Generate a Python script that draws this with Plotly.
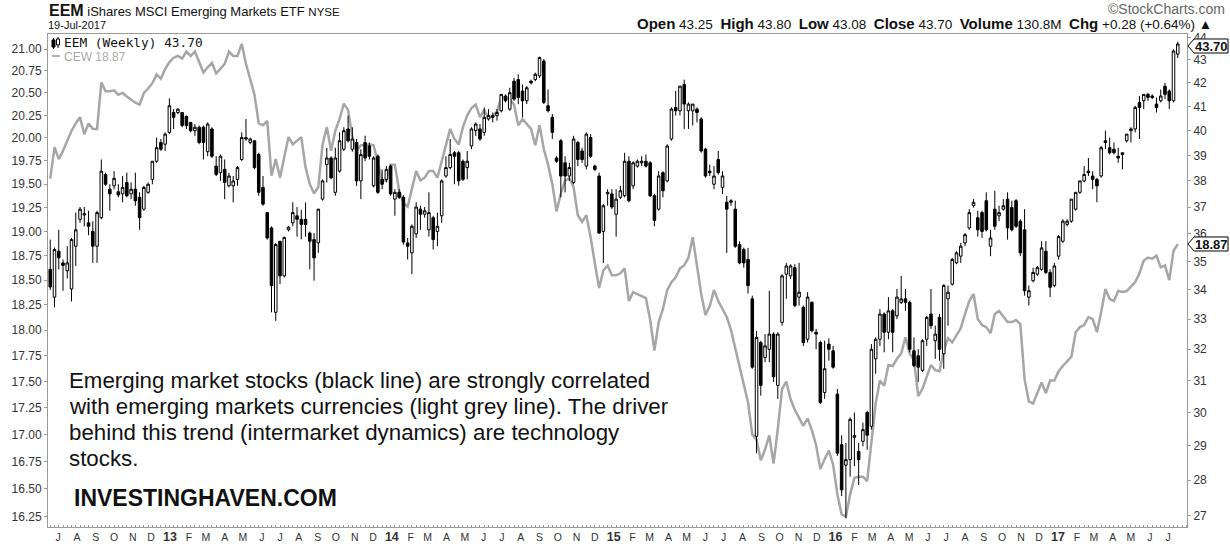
import pandas as pd
import plotly.graph_objects as go

# weekly bars, week of 18-Jun-2012 .. week of 17-Jul-2017
weeks = pd.date_range('2012-06-18', periods=266, freq='7D')

eem_open = [
    34.72, 33.75, 35.37, 34.95, 34.67, 34.03, 35.55, 36.54, 36.70, 36.41,
    36.09, 35.55, 36.60, 38.25, 37.68, 37.81, 37.58, 37.50, 37.94, 37.50,
    37.68, 37.37, 36.92, 37.56, 38.06, 38.77, 39.52, 39.45, 39.93, 40.75,
    40.75, 40.75, 40.59, 40.34, 40.00, 40.14, 40.14, 39.15, 40.07, 38.58,
    38.32, 38.45, 37.81, 37.81, 38.06, 38.84, 39.72, 39.52, 39.59, 39.04,
    37.75, 36.79, 36.22, 33.23, 35.73, 34.49, 36.15, 36.41, 36.67, 36.54,
    36.54, 36.03, 35.79, 35.67, 37.30, 38.64, 38.90, 37.56, 38.38, 39.25,
    40.07, 39.25, 39.52, 38.00, 39.52, 39.38, 37.81, 38.97, 38.06, 38.06,
    38.58, 37.30, 37.56, 37.37, 35.67, 35.31, 36.00, 36.92, 36.73, 36.15,
    36.60, 36.09, 36.67, 38.19, 38.52, 39.11, 39.11, 38.77, 38.52, 39.38,
    40.00, 40.07, 39.93, 40.48, 40.62, 40.62, 40.82, 41.44, 40.89, 42.07,
    42.14, 41.65, 41.24, 42.07, 42.14, 42.30, 42.95, 41.03, 40.55, 38.90,
    39.59, 38.71, 38.19, 37.94, 39.52, 39.18, 38.58, 39.72, 38.58, 38.19,
    36.09, 37.50, 37.50, 36.73, 37.37, 37.43, 38.77, 37.81, 38.58, 38.71,
    38.77, 38.71, 37.43, 36.92, 38.32, 38.00, 39.66, 40.96, 40.82, 41.93,
    40.82, 40.82, 40.89, 40.48, 39.25, 38.38, 37.87, 38.84, 37.75, 37.18,
    37.18, 36.92, 35.61, 35.43, 35.07, 33.69, 29.28, 32.22, 31.73, 32.00,
    32.50, 30.84, 32.89, 34.55, 34.49, 34.78, 33.75, 33.40, 32.33, 33.57,
    32.56, 32.22, 30.62, 32.17, 31.95, 30.57, 29.03, 28.43, 28.59, 29.25,
    28.83, 29.13, 30.00, 29.58, 31.69, 32.33, 33.17, 32.56, 33.28, 33.11,
    33.57, 33.69, 33.57, 31.95, 31.79, 31.32, 32.33, 33.17, 32.28, 33.06,
    31.85, 33.69, 34.20, 34.95, 35.19, 35.67, 36.22, 37.05, 36.60, 36.79,
    37.24, 35.55, 36.92, 36.67, 36.92, 37.30, 36.98, 37.24, 36.47, 36.15,
    33.75, 34.32, 34.55, 34.72, 35.37, 34.61, 34.15, 35.19, 35.73, 36.35,
    36.47, 36.92, 37.56, 38.00, 38.38, 38.19, 38.06, 38.19, 39.59, 39.31,
    39.25, 38.97, 39.04, 39.59, 40.00, 40.07, 41.17, 41.24, 41.51, 41.44,
    41.10, 41.24, 41.86, 41.65, 41.24, 43.25,
]
eem_high = [
    35.79, 35.50, 36.15, 35.07, 35.55, 35.85, 36.79, 37.00, 37.00, 36.86,
    36.47, 36.86, 38.84, 38.32, 37.87, 38.38, 37.87, 38.19, 38.32, 37.94,
    38.32, 37.56, 37.81, 37.94, 38.77, 39.72, 39.66, 39.93, 41.34, 40.89,
    40.92, 40.75, 40.62, 40.34, 40.27, 40.21, 40.21, 40.34, 40.14, 38.97,
    39.04, 38.84, 38.32, 38.19, 38.58, 39.93, 40.48, 39.72, 39.59, 39.11,
    38.19, 36.79, 36.28, 35.67, 35.73, 35.90, 36.28, 37.18, 37.00, 36.90,
    37.17, 36.09, 36.03, 36.92, 38.06, 39.30, 38.97, 39.31, 39.93, 40.14,
    40.62, 40.14, 39.66, 39.25, 39.79, 39.52, 38.97, 39.04, 38.45, 38.58,
    38.64, 37.68, 37.68, 37.45, 35.85, 36.35, 37.18, 37.05, 37.00, 37.56,
    36.67, 36.79, 38.06, 38.97, 39.66, 39.18, 39.18, 38.84, 39.18, 40.14,
    40.34, 40.27, 40.96, 40.89, 40.75, 40.89, 41.51, 41.51, 41.79, 42.21,
    42.37, 41.93, 41.86, 42.14, 42.44, 43.14, 43.03, 41.72, 40.69, 38.97,
    39.66, 38.97, 38.71, 39.79, 39.59, 39.31, 39.93, 39.86, 38.64, 38.32,
    37.11, 37.68, 37.68, 37.68, 37.81, 39.11, 38.97, 38.77, 38.84, 38.97,
    39.04, 38.77, 37.50, 38.38, 38.38, 39.45, 40.96, 41.65, 41.86, 42.14,
    41.17, 41.10, 40.96, 40.55, 39.31, 38.64, 38.58, 39.18, 38.38, 37.43,
    37.30, 37.24, 35.73, 35.50, 35.49, 33.80, 32.60, 32.28, 32.50, 33.97,
    32.56, 32.56, 34.55, 34.95, 34.90, 34.90, 34.95, 33.46, 33.92, 33.60,
    32.67, 32.28, 32.28, 32.36, 32.11, 30.73, 29.31, 29.08, 29.85, 30.00,
    29.08, 29.69, 30.05, 32.17, 32.39, 33.34, 33.23, 33.75, 33.34, 34.03,
    34.49, 34.03, 33.63, 32.39, 32.00, 32.33, 33.11, 34.03, 32.78, 33.17,
    34.20, 34.15, 35.13, 35.37, 35.67, 36.03, 36.92, 37.30, 36.86, 36.86,
    37.56, 36.15, 37.62, 37.05, 37.30, 37.56, 37.24, 37.30, 36.54, 36.92,
    34.15, 34.78, 34.84, 35.73, 35.73, 34.72, 34.95, 35.96, 36.54, 36.54,
    37.30, 37.56, 38.00, 38.58, 38.90, 38.38, 38.12, 39.38, 40.00, 39.72,
    39.52, 39.31, 39.11, 39.86, 40.14, 41.03, 41.44, 41.51, 41.58, 41.51,
    41.38, 41.72, 42.00, 41.72, 43.46, 43.80,
]
eem_low = [
    34.00, 33.40, 34.72, 33.97, 34.40, 33.60, 34.84, 36.41, 36.28, 35.95,
    34.95, 34.95, 36.54, 37.81, 36.86, 37.68, 37.37, 37.18, 37.37, 37.30,
    37.05, 36.15, 36.86, 37.50, 37.87, 38.71, 39.18, 39.18, 39.86, 40.07,
    40.68, 40.14, 40.07, 39.93, 39.79, 39.45, 38.84, 38.97, 38.90, 38.19,
    38.00, 37.30, 37.75, 37.18, 37.81, 38.77, 39.59, 39.45, 38.45, 37.43,
    37.05, 35.79, 33.23, 32.94, 34.20, 34.43, 36.09, 36.28, 35.90, 35.80,
    35.90, 34.72, 34.32, 35.31, 37.24, 37.94, 38.06, 37.43, 38.32, 39.18,
    39.52, 39.15, 37.81, 37.30, 38.77, 38.84, 37.75, 37.50, 37.68, 37.94,
    37.43, 36.67, 37.30, 35.60, 35.07, 34.55, 35.85, 36.15, 36.60, 35.90,
    35.43, 35.55, 36.41, 38.12, 38.45, 37.87, 37.81, 38.00, 38.06, 39.25,
    39.79, 39.59, 39.79, 40.41, 40.34, 40.41, 40.75, 41.17, 40.82, 41.24,
    41.10, 40.55, 41.10, 41.93, 42.07, 42.21, 41.10, 40.75, 39.66, 38.71,
    37.37, 37.56, 38.00, 37.87, 38.58, 38.71, 38.45, 38.90, 38.38, 36.00,
    34.95, 37.05, 36.92, 35.90, 37.30, 37.37, 37.18, 37.68, 38.52, 38.58,
    38.52, 37.37, 36.28, 36.86, 37.37, 37.94, 39.59, 40.62, 40.62, 40.07,
    40.07, 40.21, 40.34, 39.11, 38.12, 38.19, 37.68, 38.25, 37.50, 35.31,
    37.05, 35.49, 34.90, 34.78, 33.87, 31.37, 28.78, 30.52, 31.58, 31.58,
    30.95, 30.42, 32.78, 33.69, 34.38, 33.40, 33.46, 32.11, 32.22, 32.56,
    32.00, 30.26, 30.42, 31.63, 31.37, 28.70, 27.55, 26.93, 28.10, 28.40,
    27.86, 28.98, 28.88, 29.48, 31.21, 32.11, 31.90, 32.33, 31.90, 33.00,
    33.51, 33.28, 31.90, 31.42, 30.95, 31.26, 32.11, 32.67, 31.69, 31.63,
    31.37, 32.78, 34.15, 34.90, 34.95, 35.55, 36.15, 36.98, 35.90, 35.85,
    36.09, 35.19, 36.15, 36.47, 36.86, 35.79, 36.09, 36.22, 35.19, 33.80,
    33.46, 34.26, 34.49, 34.67, 34.55, 33.75, 34.09, 35.07, 35.67, 36.28,
    36.41, 36.86, 37.50, 37.94, 38.19, 37.68, 37.18, 38.12, 39.25, 39.04,
    39.04, 38.71, 38.45, 39.52, 39.52, 39.93, 39.66, 40.89, 41.24, 41.31,
    40.75, 41.17, 41.31, 40.89, 41.17, 43.08,
]
eem_close = [
    34.10, 35.43, 35.13, 34.86, 34.95, 35.79, 36.15, 36.92, 36.75, 36.28,
    35.55, 36.79, 38.38, 37.87, 37.50, 38.10, 37.46, 37.75, 37.43, 37.68,
    37.24, 36.60, 37.75, 37.87, 38.77, 39.31, 39.25, 39.86, 41.03, 40.55,
    40.89, 40.21, 40.21, 40.00, 40.14, 39.52, 39.52, 40.27, 38.97, 38.25,
    38.97, 37.94, 38.19, 38.00, 38.52, 39.72, 39.66, 39.66, 38.52, 37.56,
    37.11, 35.85, 34.15, 35.61, 34.49, 35.87, 36.25, 36.79, 36.54, 36.35,
    36.35, 35.73, 35.13, 36.92, 38.00, 38.90, 38.12, 38.90, 39.59, 40.00,
    39.59, 39.66, 38.00, 39.04, 38.90, 38.97, 38.90, 37.56, 37.87, 38.45,
    37.50, 37.56, 37.37, 35.70, 35.55, 36.28, 37.00, 36.73, 36.86, 36.79,
    35.79, 36.28, 38.00, 38.52, 39.04, 38.97, 38.00, 38.06, 38.77, 40.07,
    40.27, 39.66, 40.55, 40.62, 40.55, 40.75, 41.51, 41.24, 41.58, 41.31,
    41.38, 41.24, 41.79, 42.00, 42.37, 43.10, 41.17, 40.82, 39.93, 38.77,
    38.19, 38.19, 38.52, 39.66, 38.84, 38.84, 39.86, 38.97, 38.45, 36.03,
    37.05, 37.56, 37.00, 37.30, 37.62, 38.77, 37.24, 38.71, 38.77, 38.77,
    38.58, 37.43, 36.50, 38.19, 37.62, 39.38, 40.89, 40.82, 41.86, 41.10,
    41.10, 41.10, 40.75, 39.18, 38.19, 38.32, 38.19, 38.32, 38.19, 36.92,
    37.24, 35.55, 34.95, 34.95, 34.15, 31.42, 32.39, 30.84, 32.11, 32.50,
    31.11, 32.50, 34.49, 34.84, 34.84, 33.46, 33.92, 32.22, 33.75, 32.61,
    32.50, 30.31, 31.37, 32.00, 31.42, 28.78, 27.72, 28.59, 29.79, 29.30,
    28.59, 29.48, 29.31, 32.00, 32.33, 33.17, 32.56, 33.28, 32.56, 33.75,
    33.69, 33.57, 32.00, 31.47, 31.42, 32.28, 33.06, 32.78, 32.50, 32.00,
    34.15, 33.92, 35.07, 35.31, 35.55, 35.97, 36.79, 37.18, 36.15, 36.09,
    36.15, 35.85, 36.28, 36.79, 37.05, 36.22, 36.15, 36.28, 35.31, 33.97,
    33.97, 34.61, 34.78, 35.49, 34.61, 34.09, 34.84, 35.90, 36.47, 36.47,
    37.30, 37.56, 38.00, 38.25, 38.32, 38.06, 37.81, 39.31, 39.52, 39.11,
    39.11, 38.90, 39.11, 39.86, 40.07, 40.96, 40.96, 41.51, 41.38, 41.38,
    40.96, 41.44, 41.51, 41.24, 43.39, 43.70,
]
cew_close = [
    19.56, 19.90, 19.77, 19.86, 19.97, 20.08, 20.16, 20.23, 20.04, 20.16,
    20.10, 20.10, 20.62, 20.52, 20.52, 20.53, 20.48, 20.50, 20.46, 20.43,
    20.39, 20.37, 20.50, 20.55, 20.61, 20.71, 20.66, 20.77, 20.85, 20.90,
    20.92, 20.89, 20.97, 20.92, 20.97, 20.85, 20.73, 20.79, 20.84, 20.72,
    20.78, 20.83, 20.97, 20.92, 20.92, 21.06, 20.83, 20.64, 20.48, 20.16,
    20.14, 20.19, 19.59, 19.77, 19.57, 19.79, 20.01, 19.93, 19.97, 20.01,
    19.68, 19.50, 19.40, 19.47, 19.93, 20.12, 19.86, 20.08, 20.21, 20.38,
    20.31, 20.01, 19.86, 19.92, 19.92, 19.93, 19.92, 19.71, 19.54, 19.54,
    19.71, 19.71, 19.43, 19.30, 19.26, 19.45, 19.64, 19.54, 19.57, 19.64,
    19.64, 19.57, 19.75, 19.93, 20.10, 19.99, 19.93, 20.12, 20.25, 20.33,
    20.37, 20.23, 20.31, 20.22, 20.24, 20.29, 20.45, 20.45, 20.43, 20.37,
    20.14, 20.21, 20.16, 20.10, 19.92, 20.14, 19.88, 19.71, 19.50, 19.21,
    19.40, 19.54, 19.56, 19.47, 19.17, 19.10, 19.17, 18.94, 18.67, 18.42,
    18.60, 18.65, 18.55, 18.55, 18.57, 18.62, 18.29, 18.38, 18.36, 18.34,
    18.32, 18.10, 17.80, 18.08, 18.21, 18.40, 18.48, 18.53, 18.62, 18.65,
    18.73, 18.94, 18.67, 18.36, 18.15, 18.24, 18.40, 18.29, 18.21, 18.13,
    18.00, 17.82, 17.65, 17.49, 17.30, 17.00, 16.95, 16.76, 16.86, 16.99,
    16.73, 17.05, 17.43, 17.50, 17.33, 17.23, 17.15, 17.08, 17.15, 17.04,
    16.90, 16.68, 16.77, 16.85, 16.72, 16.45, 16.27, 16.25, 16.45, 16.60,
    16.61, 16.61, 16.57, 16.91, 17.29, 17.51, 17.46, 17.66, 17.65, 17.72,
    17.77, 17.93, 17.77, 17.71, 17.36, 17.43, 17.54, 17.66, 17.61, 17.60,
    17.80, 17.92, 17.88, 17.95, 18.02, 18.16, 18.29, 18.36, 18.11, 18.05,
    18.03, 17.97, 18.16, 18.19, 18.13, 18.08, 18.08, 18.10, 18.06, 17.52,
    17.31, 17.29, 17.39, 17.49, 17.39, 17.51, 17.51, 17.60, 17.65, 17.69,
    17.74, 17.98, 18.03, 18.05, 18.13, 18.11, 17.98, 18.18, 18.41, 18.31,
    18.29, 18.39, 18.38, 18.39, 18.43, 18.48, 18.57, 18.70, 18.73, 18.72,
    18.75, 18.63, 18.65, 18.50, 18.80, 18.87,
]

cew_ticks = [16.25, 16.5, 16.75, 17.0, 17.25, 17.5, 17.75, 18.0, 18.25, 18.5,
             18.75, 19.0, 19.25, 19.5, 19.75, 20.0, 20.25, 20.5, 20.75, 21.0]
eem_ticks = list(range(27, 45))
month_letters = ['J', 'F', 'M', 'A', 'M', 'J', 'J', 'A', 'S', 'O', 'N', 'D']
months = pd.date_range('2012-07-01', '2017-07-01', freq='MS')
month_text = ["<b><span style='font-size:12.5px'>%s</span></b>" % m.strftime('%y')
              if m.month == 1 else month_letters[m.month - 1] for m in months]
quote_fields = [('Open', '43.25'), ('High', '43.80'), ('Low', '43.08'),
                ('Close', '43.70'), ('Volume', '130.8M'), ('Chg', '+0.28 (+0.64%) \u25b2')]
note_lines = [
    'Emerging market stocks (black line) are strongly correlated',
    'with emerging markets currencies (light grey line). The driver',
    'behind this trend (intermarket dynamics) are technology',
    'stocks.',
]

# plot frame in pixels
L, R, T, B = 48, 1187, 34, 527
def px(x): return (x - L) / (R - L)
def py(y): return (B - y) / (B - T)

fig = go.Figure()
fig.add_trace(go.Scatter(
    x=weeks, y=cew_close, mode='lines', yaxis='y',
    line=dict(color='#a6a6a6', width=2.5), hoverinfo='skip'
))
fig.add_trace(go.Candlestick(
    x=weeks, open=eem_open, high=eem_high, low=eem_low, close=eem_close,
    yaxis='y2', whiskerwidth=0,
    increasing=dict(line=dict(color='black', width=1), fillcolor='white'),
    decreasing=dict(line=dict(color='black', width=1), fillcolor='black'),
    hoverinfo='skip'
))

fig.update_layout(
    width=1230, height=547,
    margin=dict(l=L, r=1230 - R, t=T, b=547 - B, autoexpand=False),
    paper_bgcolor='white', plot_bgcolor='white',
    showlegend=False, boxgap=0.15,
    font=dict(family='Liberation Sans, Arial', size=12, color='#222'),
    xaxis=dict(
        type='date', range=['2012-06-14 07:00', '2017-08-01 05:00'],
        rangeslider=dict(visible=False), automargin=False,
        tickvals=months, ticktext=month_text, tickangle=0,
        tickfont=dict(size=10.5, color='#333'),
        showgrid=False, showline=True, linecolor='#9a9a9a', linewidth=1, mirror=True,
        ticks='', fixedrange=True,
        minor=dict(ticks='inside', ticklen=2, tickcolor='#9a9a9a',
                   dtick=7 * 86400000, tick0='2012-06-18', showgrid=False),
    ),
    yaxis=dict(
        type='log', range=[1.208400, 1.325791], side='left', automargin=False,
        tickvals=cew_ticks, ticktext=['%.2f' % v for v in cew_ticks],
        tickfont=dict(size=12, color='#333'),
        showgrid=False, showline=True, linecolor='#9a9a9a', linewidth=1,
        ticks='outside', ticklen=3, tickcolor='#9a9a9a', zeroline=False,
    ),
    yaxis2=dict(
        type='log', range=[1.426354, 1.644916], side='right', overlaying='y',
        automargin=False,
        tickvals=eem_ticks, ticktext=[str(v) for v in eem_ticks],
        tickfont=dict(size=12, color='#333'),
        showgrid=False, showline=True, linecolor='#9a9a9a', linewidth=1,
        ticks='outside', ticklen=3, tickcolor='#9a9a9a', zeroline=False,
    ),
)

def pt(x, y):
    return '%.5f,%.5f' % (px(x), py(y))

shapes = []
# value tags on the right axis
for yc in (46, 244):
    path = 'M %s L %s L %s L %s L %s Z' % (
        pt(1188, yc), pt(1194, yc - 7), pt(1228, yc - 7), pt(1228, yc + 7), pt(1194, yc + 7))
    shapes.append(dict(type='path', path=path, xref='paper', yref='paper',
                       fillcolor='white', line=dict(color='black', width=1), layer='above'))
# tiny candle icon in the in-chart legend
shapes += [
    dict(type='line', xref='paper', yref='paper', x0=px(53.5), x1=px(53.5), y0=py(38), y1=py(49),
         line=dict(color='black', width=1)),
    dict(type='rect', xref='paper', yref='paper', x0=px(52), x1=px(55), y0=py(40), y1=py(47),
         fillcolor='black', line=dict(color='black', width=1)),
    dict(type='line', xref='paper', yref='paper', x0=px(58), x1=px(58), y0=py(37), y1=py(48),
         line=dict(color='black', width=1)),
    dict(type='rect', xref='paper', yref='paper', x0=px(56.5), x1=px(59.5), y0=py(39), y1=py(45),
         fillcolor='white', line=dict(color='black', width=1)),
    dict(type='line', xref='paper', yref='paper', x0=px(52), x1=px(60), y0=py(56), y1=py(56),
         line=dict(color='#b0b0b0', width=2)),
]
fig.update_layout(shapes=shapes)

def note(text, x, y, size=12, color='#222', xanchor='left', family=None, yanchor='middle', align='left'):
    f = dict(size=size, color=color)
    if family:
        f['family'] = family
    fig.add_annotation(text=text, x=px(x), y=py(y), xref='paper', yref='paper',
                       xanchor=xanchor, yanchor=yanchor, showarrow=False, font=f,
                       align=align, borderpad=0)

note("<b><span style='font-size:16px'>EEM</span></b> iShares MSCI Emerging Markets ETF "
     "<span style='font-size:11.5px'>NYSE</span>", 48, 11, size=13, color='#111')
note('19-Jul-2017', 47, 25, size=11, color='#111')
note('\u00a9StockCharts.com', 1226, 9, size=14, color='#666', xanchor='right')
quote = '  '.join("<b><span style='font-size:15px'>%s</span></b> %s" % (k, v)
                  for k, v in quote_fields)
note(quote, 1213, 24, size=13.5, color='#111', xanchor='right')
note('EEM (Weekly) 43.70', 63, 43, size=12.8, color='#111', family='DejaVu Sans Mono')
note('CEW 18.87', 63, 57, size=12, color='#aaaaaa')
note('<b>43.70</b>', 1211, 46, size=13, color='#111', xanchor='center')
note('<b>18.87</b>', 1211, 244, size=13, color='#111', xanchor='center')
for line_text, yc in zip(note_lines, (380, 406, 432, 458)):
    note(line_text, 68, yc, size=22.3, color='#111')
note('<b>INVESTINGHAVEN.COM</b>', 73, 498, size=23, color='#111')

# the page body has a default 8px margin; drop it so the figure fills the window exactly
fig.write_html('out.html', config={'displayModeBar': False},
               post_script="document.body.style.margin='0';document.body.style.overflow='hidden';")
